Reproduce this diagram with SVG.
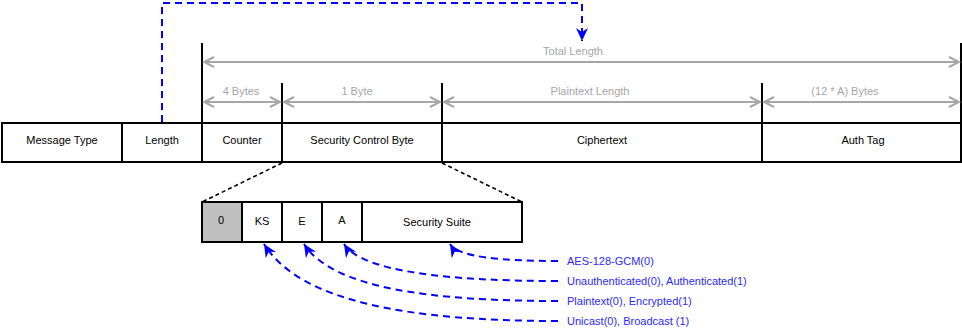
<svg xmlns="http://www.w3.org/2000/svg" width="962" height="328" viewBox="0 0 962 328">
  <style>
    text { font-family: "Liberation Sans", Arial, sans-serif; font-size: 11px; text-anchor: middle; }
    .cell { fill: #fff; stroke: #000; stroke-width: 2; }
    .lbl { fill: #000; }
    .dim { fill: #a6a6a6; }
    .note { fill: #2a2aff; text-anchor: start; }
    .tick { stroke: #000; stroke-width: 2; }
    .dimline { stroke: #a6a6a6; stroke-width: 2; fill: none; marker-start: url(#chev); marker-end: url(#chev); }
    .ref { stroke: #0000ff; stroke-width: 2; fill: none; stroke-dasharray: 7 5; marker-end: url(#blueHead); }
    .zoom { stroke: #000; stroke-width: 1.6; stroke-dasharray: 4 3; }
  </style>
  <defs>
    <marker id="chev" viewBox="-12 -7 14 14" refX="0" refY="0" markerWidth="14" markerHeight="14" markerUnits="userSpaceOnUse" orient="auto-start-reverse">
      <path d="M-10,-5 L0,0 L-10,5" fill="none" stroke="#a6a6a6" stroke-width="2"/>
    </marker>
    <marker id="blueHead" viewBox="-14 -8 16 16" refX="0" refY="0" markerWidth="16" markerHeight="16" markerUnits="userSpaceOnUse" orient="auto">
      <path d="M0,0 L-13,-6 L-9,0 L-13,6 Z" fill="#0000ff"/>
    </marker>
  </defs>

  <!-- dimension ticks and arrows -->
  <g id="dimensions">
    <line class="tick" x1="202" y1="43" x2="202" y2="123"/>
    <line class="tick" x1="961" y1="43" x2="961" y2="123"/>
    <line class="tick" x1="282" y1="83" x2="282" y2="123"/>
    <line class="tick" x1="442" y1="83" x2="442" y2="123"/>
    <line class="tick" x1="762" y1="83" x2="762" y2="123"/>
    <line class="dimline" x1="204" y1="62" x2="959" y2="62"/>
    <line class="dimline" x1="204" y1="102" x2="280" y2="102"/>
    <line class="dimline" x1="284" y1="102" x2="440" y2="102"/>
    <line class="dimline" x1="444" y1="102" x2="760" y2="102"/>
    <line class="dimline" x1="764" y1="102" x2="959" y2="102"/>
    <text class="dim" x="573" y="55">Total Length</text>
    <text class="dim" x="241" y="95">4 Bytes</text>
    <text class="dim" x="357" y="95">1 Byte</text>
    <text class="dim" x="590" y="95">Plaintext Length</text>
    <text class="dim" x="845" y="95">(12 * A) Bytes</text>
  </g>

  <!-- message frame fields -->
  <g id="message-type"><rect class="cell" x="2" y="123" width="120" height="39"/><text class="lbl" x="62" y="144">Message Type</text></g>
  <g id="length"><rect class="cell" x="122" y="123" width="80" height="39"/><text class="lbl" x="162" y="144">Length</text></g>
  <g id="counter"><rect class="cell" x="202" y="123" width="80" height="39"/><text class="lbl" x="242" y="144">Counter</text></g>
  <g id="security-control-byte"><rect class="cell" x="282" y="123" width="160" height="39"/><text class="lbl" x="362" y="144">Security Control Byte</text></g>
  <g id="ciphertext"><rect class="cell" x="442" y="123" width="320" height="39"/><text class="lbl" x="602" y="144">Ciphertext</text></g>
  <g id="auth-tag"><rect class="cell" x="762" y="123" width="199" height="39"/><text class="lbl" x="863" y="144">Auth Tag</text></g>

  <!-- security control byte breakdown -->
  <g id="bit-reserved"><rect class="cell" x="202" y="202" width="40" height="40" style="fill:#c0c0c0"/><text class="lbl" x="221" y="224">0</text></g>
  <g id="bit-ks"><rect class="cell" x="242" y="202" width="40" height="40"/><text class="lbl" x="262" y="225">KS</text></g>
  <g id="bit-e"><rect class="cell" x="282" y="202" width="40" height="40"/><text class="lbl" x="302" y="225">E</text></g>
  <g id="bit-a"><rect class="cell" x="322" y="202" width="40" height="40"/><text class="lbl" x="342" y="224">A</text></g>
  <g id="security-suite"><rect class="cell" x="362" y="202" width="160" height="40"/><text class="lbl" x="437" y="226">Security Suite</text></g>

  <!-- field notes -->
  <g id="notes">
    <text class="note" x="567" y="265">AES-128-GCM(0)</text>
    <text class="note" x="567" y="285">Unauthenticated(0), Authenticated(1)</text>
    <text class="note" x="567" y="305">Plaintext(0), Encrypted(1)</text>
    <text class="note" x="567" y="325">Unicast(0), Broadcast (1)</text>
  </g>

  <!-- connectors -->
  <g id="connectors">
    <line class="zoom" x1="282" y1="163" x2="202" y2="202"/>
    <line class="zoom" x1="442" y1="163" x2="522" y2="202"/>
    <path class="ref" d="M162,122 V3 H582 V41"/>
    <path class="ref" d="M558,261 C500,261 458,257 450,244"/>
    <path class="ref" d="M558,281 C450,281 362,272 344,244"/>
    <path class="ref" d="M558,301 C430,301 332,288 304,244"/>
    <path class="ref" d="M558,321 C410,321 300,302 264,244"/>
  </g>
</svg>
